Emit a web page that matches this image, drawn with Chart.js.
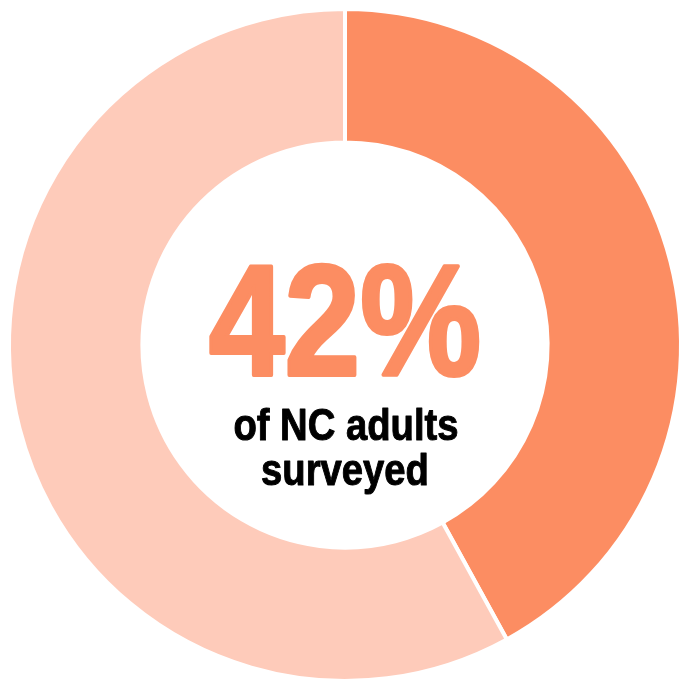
<!DOCTYPE html>
<html>
<head>
<meta charset="utf-8">
<script src="https://cdn.jsdelivr.net/npm/chart.js@4"></script>
<style>
  html, body { margin: 0; padding: 0; background: #fff; overflow: hidden; }
  #wrap { width: 690px; height: 690px; }
</style>
</head>
<body>
<div id="wrap"><canvas id="graficoDonut" width="690" height="690"></canvas></div>
<script>
  // share of NC adults surveyed vs the rest
  const categorias = ['Surveyed', 'Other'];
  const valores = [42, 58];
  const cores = ['#FC8D62', '#FECBBA'];
  const rotuloValor = valores[0] + '%';
  const rotuloLinhas = ['of NC adults', 'surveyed'];

  const fonte = '"Liberation Sans", Arial, sans-serif';

  // escreve texto estreitado e engrossado (fonte condensada nao disponivel)
  function textoEstreito(ctx, txt, x, y, fator, grossura) {
    ctx.save();
    ctx.translate(x, y);
    ctx.scale(fator, 1);
    ctx.fillText(txt, 0, 0);
    ctx.lineWidth = grossura;
    ctx.lineJoin = 'round';
    ctx.strokeText(txt, 0, 0);
    ctx.restore();
  }

  // texto no centro do anel
  const textoCentro = {
    id: 'textoCentro',
    afterDraw(chart) {
      const ctx = chart.ctx;
      const meta = chart.getDatasetMeta(0).data[0];
      const cx = meta.x, cy = meta.y;
      ctx.save();
      ctx.textAlign = 'center';
      ctx.textBaseline = 'alphabetic';
      ctx.fillStyle = cores[0];
      ctx.strokeStyle = cores[0];
      ctx.font = 'bold 158px ' + fonte;
      textoEstreito(ctx, rotuloValor, cx, cy + 30, 0.86, 4);
      ctx.fillStyle = '#000';
      ctx.strokeStyle = '#000';
      ctx.font = 'bold 45px ' + fonte;
      textoEstreito(ctx, rotuloLinhas[0], cx + 1, cy + 95, 0.85, 1);
      textoEstreito(ctx, rotuloLinhas[1], cx, cy + 140, 0.85, 1);
      ctx.restore();
    }
  };

  const ctx = document.getElementById('graficoDonut').getContext('2d');
  const chart = new Chart(ctx, {
    type: 'doughnut',
    data: {
      labels: categorias,
      datasets: [{
        data: valores,
        backgroundColor: cores,
        borderColor: '#fff',
        borderWidth: 4,
        hoverOffset: 0
      }]
    },
    options: {
      responsive: false,
      animation: false,
      cutout: '60.3%',
      layout: { padding: 7 },
      plugins: {
        legend: { display: false },
        tooltip: { enabled: false }
      }
    },
    plugins: [textoCentro]
  });
</script>
</body>
</html>
